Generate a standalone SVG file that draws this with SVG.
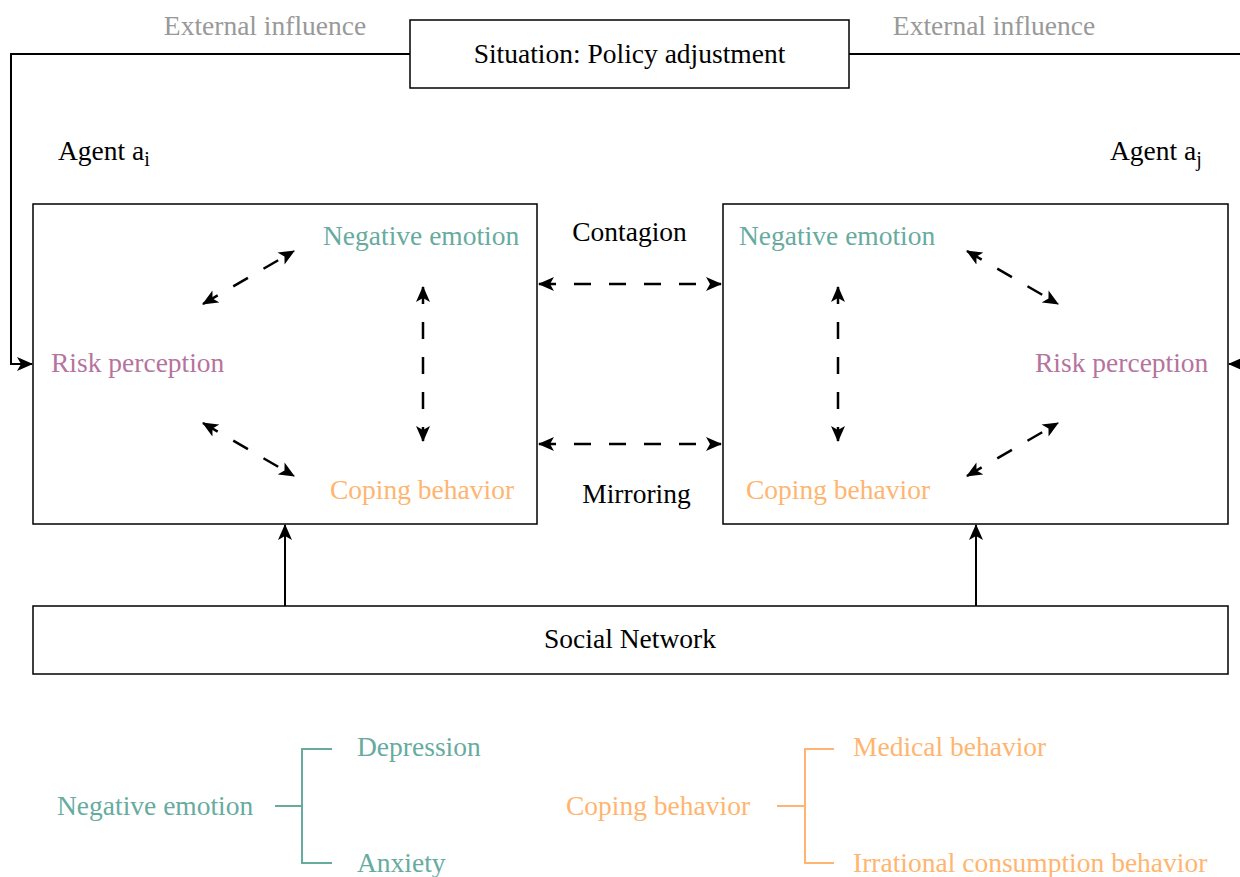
<svg xmlns="http://www.w3.org/2000/svg" width="1240" height="877" viewBox="0 0 1240 877">
  <style>
    text { font-family: "Liberation Serif", "Times New Roman", serif; font-size: 27.5px; }
    .box { fill: none; stroke: #000; stroke-width: 1.5; }
    .line { fill: none; stroke: #000; stroke-width: 2; }
    .dash { fill: none; stroke: #000; stroke-width: 2.5; stroke-dasharray: 17 18; }
    .ne { fill: #67ab9f; }
    .rp { fill: #b5739d; }
    .cb { fill: #ffb570; }
    .ext { fill: #999999; }
    .k { fill: #000; }
    .brg { fill: none; stroke: #67ab9f; stroke-width: 2; }
    .bro { fill: none; stroke: #ffb570; stroke-width: 2; }
  </style>
  <defs>
    <marker id="ah" viewBox="0 0 16 14" refX="15" refY="7" markerWidth="16" markerHeight="14" markerUnits="userSpaceOnUse" orient="auto-start-reverse">
      <path d="M0,0 L16,7 L0,14 L4,7 Z" fill="#000"/>
    </marker>
  </defs>
  <rect width="1240" height="877" fill="#fff"/>

  <text class="ext" x="265" y="35" text-anchor="middle">External influence</text>
  <text class="ext" x="994" y="35" text-anchor="middle">External influence</text>

  <g id="situation">
    <rect class="box" x="410" y="20" width="439" height="68"/>
    <text class="k" x="629.5" y="63" text-anchor="middle">Situation: Policy adjustment</text>
  </g>

  <g id="agent-i">
    <text class="k" x="58" y="160">Agent a<tspan font-size="20" dy="6">i</tspan></text>
    <rect class="box" x="33" y="204" width="504" height="320"/>
    <text class="ne" x="323" y="245">Negative emotion</text>
    <text class="rp" x="51" y="372">Risk perception</text>
    <text class="cb" x="330" y="499">Coping behavior</text>
  </g>

  <g id="agent-j">
    <text class="k" x="1110" y="160">Agent a<tspan font-size="20" dy="6">j</tspan></text>
    <rect class="box" x="723" y="204" width="505" height="320"/>
    <text class="ne" x="739" y="245">Negative emotion</text>
    <text class="rp" x="1035" y="372">Risk perception</text>
    <text class="cb" x="746" y="499">Coping behavior</text>
  </g>

  <text class="k" x="629.5" y="241" text-anchor="middle">Contagion</text>
  <text class="k" x="636.5" y="503" text-anchor="middle">Mirroring</text>

  <g id="social-network">
    <rect class="box" x="33" y="606" width="1195" height="68"/>
    <text class="k" x="630" y="648" text-anchor="middle">Social Network</text>
  </g>

  <g id="legend-emotion">
    <text class="ne" x="57" y="815">Negative emotion</text>
    <path class="brg" d="M275,806 H302 M332,749 H302 V863 H332"/>
    <text class="ne" x="357" y="756">Depression</text>
    <text class="ne" x="357" y="872">Anxiety</text>
  </g>

  <g id="legend-coping">
    <text class="cb" x="566" y="815">Coping behavior</text>
    <path class="bro" d="M777,806 H805 M834,749 H805 V863 H834"/>
    <text class="cb" x="853" y="756">Medical behavior</text>
    <text class="cb" x="853" y="872">Irrational consumption behavior</text>
  </g>

  <g id="connectors">
    <!-- external influence feeds -->
    <path class="line" d="M410,54 H11 V364 H32" marker-end="url(#ah)"/>
    <path class="line" d="M849,54 H1250 V364 H1229" marker-end="url(#ah)"/>
    <!-- agent i internal -->
    <line class="dash" x1="203" y1="304" x2="294" y2="251" marker-start="url(#ah)" marker-end="url(#ah)"/>
    <line class="dash" x1="203" y1="423" x2="294" y2="476" marker-start="url(#ah)" marker-end="url(#ah)"/>
    <line class="dash" x1="423" y1="287" x2="423" y2="441" marker-start="url(#ah)" marker-end="url(#ah)"/>
    <!-- agent j internal -->
    <line class="dash" x1="967" y1="251" x2="1058" y2="304" marker-start="url(#ah)" marker-end="url(#ah)"/>
    <line class="dash" x1="967" y1="476" x2="1058" y2="423" marker-start="url(#ah)" marker-end="url(#ah)"/>
    <line class="dash" x1="838" y1="287" x2="838" y2="441" marker-start="url(#ah)" marker-end="url(#ah)"/>
    <!-- between agents -->
    <line class="dash" x1="539" y1="284" x2="721" y2="284" marker-start="url(#ah)" marker-end="url(#ah)"/>
    <line class="dash" x1="539" y1="444" x2="721" y2="444" marker-start="url(#ah)" marker-end="url(#ah)"/>
    <!-- social network to agents -->
    <line class="line" x1="285" y1="606" x2="285" y2="525" marker-end="url(#ah)"/>
    <line class="line" x1="976" y1="606" x2="976" y2="525" marker-end="url(#ah)"/>
  </g>
</svg>
